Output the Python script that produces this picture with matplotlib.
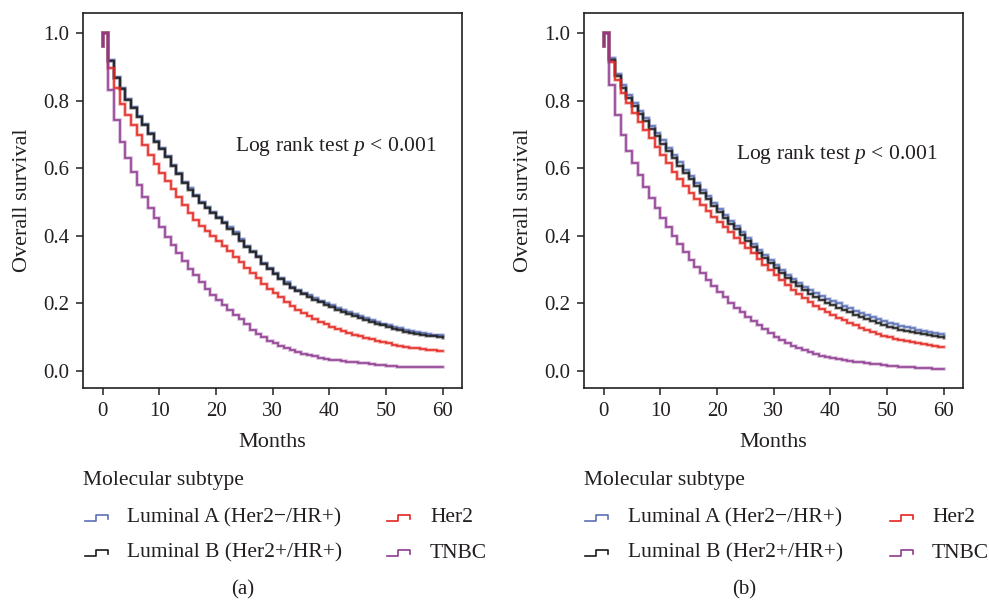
import matplotlib
matplotlib.use("Agg")
import matplotlib.pyplot as plt
from matplotlib.lines import Line2D
import numpy as np

plt.rcParams['font.family'] = ['Liberation Serif', 'DejaVu Serif']
plt.rcParams['mathtext.fontset'] = 'custom'
plt.rcParams['mathtext.rm'] = 'Liberation Serif'
plt.rcParams['mathtext.it'] = 'Liberation Serif:italic'

months = list(range(0, 61))
start_value = 0.96

# ---- panel (a) ----
lumA_a = [1.0, 0.92, 0.87, 0.836, 0.805, 0.78, 0.755, 0.73, 0.705, 0.68,
          0.66, 0.635, 0.61, 0.585, 0.56, 0.54, 0.52, 0.50, 0.485, 0.47,
          0.455, 0.44, 0.425, 0.41, 0.39, 0.37, 0.355, 0.34, 0.32, 0.305,
          0.29, 0.275, 0.262, 0.25, 0.24, 0.232, 0.224, 0.216, 0.208, 0.20,
          0.194, 0.187, 0.18, 0.174, 0.168, 0.162, 0.156, 0.15, 0.145, 0.14,
          0.135, 0.13, 0.126, 0.122, 0.118, 0.115, 0.112, 0.11, 0.108, 0.106,
          0.104]
lumB_a = [1.0, 0.918, 0.868, 0.834, 0.803, 0.778, 0.752, 0.727, 0.702, 0.677,
          0.657, 0.632, 0.607, 0.582, 0.557, 0.537, 0.517, 0.497, 0.482, 0.467,
          0.452, 0.437, 0.421, 0.406, 0.386, 0.366, 0.351, 0.336, 0.316, 0.301,
          0.286, 0.271, 0.258, 0.246, 0.236, 0.227, 0.219, 0.211, 0.203, 0.195,
          0.189, 0.182, 0.175, 0.169, 0.163, 0.157, 0.151, 0.145, 0.14, 0.135,
          0.13, 0.125, 0.121, 0.117, 0.113, 0.11, 0.107, 0.105, 0.103, 0.10,
          0.098]
her2_a = [1.0, 0.895, 0.836, 0.79, 0.757, 0.728, 0.698, 0.669, 0.64, 0.612,
          0.587, 0.562, 0.538, 0.514, 0.49, 0.468, 0.447, 0.43, 0.415, 0.40,
          0.386, 0.37, 0.355, 0.338, 0.322, 0.306, 0.29, 0.274, 0.258, 0.244,
          0.232, 0.218, 0.205, 0.193, 0.182, 0.172, 0.163, 0.154, 0.146, 0.138,
          0.131, 0.124, 0.118, 0.112, 0.107, 0.103, 0.099, 0.095, 0.09, 0.086,
          0.082, 0.078, 0.075, 0.072, 0.069, 0.067, 0.064, 0.062, 0.061, 0.06,
          0.06]
tnbc_a = [1.0, 0.831, 0.743, 0.678, 0.629, 0.59, 0.55, 0.516, 0.481, 0.452,
          0.425, 0.398, 0.372, 0.348, 0.325, 0.303, 0.283, 0.262, 0.243, 0.226,
          0.21, 0.194, 0.18, 0.166, 0.153, 0.14, 0.122, 0.11, 0.10, 0.09,
          0.082, 0.075, 0.068, 0.062, 0.057, 0.052, 0.048, 0.044, 0.04, 0.037,
          0.034, 0.032, 0.030, 0.028, 0.026, 0.025, 0.023, 0.021, 0.019, 0.018,
          0.016, 0.014, 0.012, 0.011, 0.011, 0.011, 0.011, 0.011, 0.011, 0.011,
          0.011]

# ---- panel (b) ----
lumA_b = [1.0, 0.925, 0.88, 0.846, 0.817, 0.792, 0.77, 0.748, 0.725, 0.703,
          0.682, 0.66, 0.638, 0.617, 0.596, 0.576, 0.556, 0.536, 0.517, 0.498,
          0.48, 0.462, 0.445, 0.428, 0.41, 0.393, 0.376, 0.359, 0.343, 0.328,
          0.313, 0.299, 0.285, 0.272, 0.26, 0.249, 0.239, 0.23, 0.222, 0.214,
          0.207, 0.20, 0.193, 0.186, 0.179, 0.172, 0.166, 0.16, 0.154, 0.148,
          0.142, 0.138, 0.134, 0.13, 0.126, 0.122, 0.119, 0.116, 0.113, 0.11,
          0.107]
lumB_b = [1.0, 0.92, 0.872, 0.837, 0.808, 0.783, 0.761, 0.739, 0.716, 0.694,
          0.673, 0.651, 0.629, 0.608, 0.587, 0.567, 0.547, 0.527, 0.508, 0.489,
          0.471, 0.453, 0.436, 0.419, 0.401, 0.384, 0.367, 0.35, 0.334, 0.319,
          0.304, 0.29, 0.276, 0.263, 0.251, 0.24, 0.229, 0.219, 0.21, 0.202,
          0.195, 0.188, 0.181, 0.174, 0.167, 0.161, 0.155, 0.149, 0.143, 0.137,
          0.131, 0.127, 0.123, 0.12, 0.117, 0.114, 0.111, 0.108, 0.105, 0.102,
          0.098]
her2_b = [1.0, 0.913, 0.861, 0.821, 0.792, 0.763, 0.738, 0.713, 0.688, 0.663,
          0.638, 0.614, 0.59, 0.568, 0.547, 0.528, 0.51, 0.492, 0.474, 0.457,
          0.44, 0.425, 0.41, 0.395, 0.38, 0.365, 0.349, 0.332, 0.315, 0.299,
          0.283, 0.268, 0.254, 0.24, 0.227, 0.215, 0.204, 0.193, 0.183, 0.174,
          0.166, 0.158, 0.15, 0.142, 0.135, 0.128, 0.122, 0.116, 0.11, 0.105,
          0.10, 0.096, 0.093, 0.09, 0.087, 0.083, 0.08, 0.077, 0.074, 0.072,
          0.07]
tnbc_b = [1.0, 0.846, 0.757, 0.698, 0.651, 0.614, 0.58, 0.545, 0.511, 0.481,
          0.454, 0.427, 0.40, 0.375, 0.352, 0.33, 0.309, 0.289, 0.27, 0.252,
          0.235, 0.218, 0.202, 0.188, 0.174, 0.16, 0.148, 0.136, 0.124, 0.113,
          0.102, 0.092, 0.083, 0.075, 0.068, 0.062, 0.056, 0.051, 0.046, 0.042,
          0.038, 0.035, 0.032, 0.030, 0.028, 0.026, 0.024, 0.022, 0.020, 0.018,
          0.016, 0.014, 0.013, 0.012, 0.011, 0.010, 0.009, 0.008, 0.007, 0.006,
          0.006]

labels = ['Luminal A (Her2\u2212/HR+)', 'Luminal B (Her2+/HR+)', 'Her2', 'TNBC']
colors = ['#5b6fb8', '#1a1a1a', '#e5251f', '#8e3b91']
xticks = [0, 10, 20, 30, 40, 50, 60]
yticks = [0.0, 0.2, 0.4, 0.6, 0.8, 1.0]
panel_tags = ['(a)', '(b)']
annot = 'Log rank test $p$ < 0.001'

textc = '#231f20'
W, H = 989, 603
fig = plt.figure(figsize=(W / 100, H / 100), dpi=100)

def fx(px):
    return np.asarray(px) / W

def fy(py):
    return 1 - np.asarray(py) / H

panels = [
    dict(left=83, right=462, series=[lumA_a, lumB_a, her2_a, tnbc_a], ann_y=0.663,
         h1=2, t1=44, h2=304, t2=347),
    dict(left=584, right=963, series=[lumA_b, lumB_b, her2_b, tnbc_b], ann_y=0.640,
         h1=1, t1=44, h2=306, t2=348),
]

FS = 15.5
for i, p in enumerate(panels):
    ax = fig.add_axes([fx(p['left']), fy(388), fx(p['right'] - p['left']), (388 - 13) / H])
    for vals, c in zip(p['series'], colors):
        t = [0] + months
        v = [start_value] + vals
        ax.step(t, v, where='post', color=c, lw=2.6, alpha=0.35, solid_joinstyle='miter')
        ax.step(t, v, where='post', color=c, lw=1.1, solid_joinstyle='miter')
    ax.set_xlim(-3.5, 63.4)
    ax.set_ylim(-0.05, 1.059)
    ax.set_xticks(xticks)
    ax.set_yticks(yticks)
    ax.set_yticklabels([f'{y:.1f}' for y in yticks])
    ax.tick_params(direction='out', length=5, width=1.1, labelsize=15,
                   colors=textc, pad=5)
    for s in ax.spines.values():
        s.set_linewidth(1.2)
        s.set_color(textc)
    ax.set_xlabel('Months', fontsize=16, color=textc, labelpad=9)
    ax.set_ylabel('Overall survival', fontsize=16, color=textc, labelpad=8)
    ax.text(23.3, p['ann_y'], annot, fontsize=FS, color=textc, va='center', ha='left')

    # legend (drawn manually)
    L = p['left']
    fig.text(fx(L), fy(481), 'Molecular subtype', fontsize=FS, color=textc, va='center', ha='left')
    rows = [(0, 518), (0, 553), (1, 518), (1, 553)]
    for (col, ry), lab, c in zip(rows, labels, colors):
        hx = L + (p['h1'] if col == 0 else p['h2'])
        tx = L + (p['t1'] if col == 0 else p['t2'])
        xs = np.array([0, 11, 11, 23, 23]) + hx
        ys = np.array([ry + 3, ry + 3, ry - 3, ry - 3, ry + 1])
        fig.add_artist(Line2D(fx(xs), fy(ys), color=c, lw=1.2))
        fig.text(fx(tx), fy(ry), lab, fontsize=FS, color=textc, va='center', ha='left')
    fig.text(fx(L + 160), fy(590), panel_tags[i], fontsize=15, color=textc, va='center', ha='center')

fig.savefig('out.png', dpi=100)
